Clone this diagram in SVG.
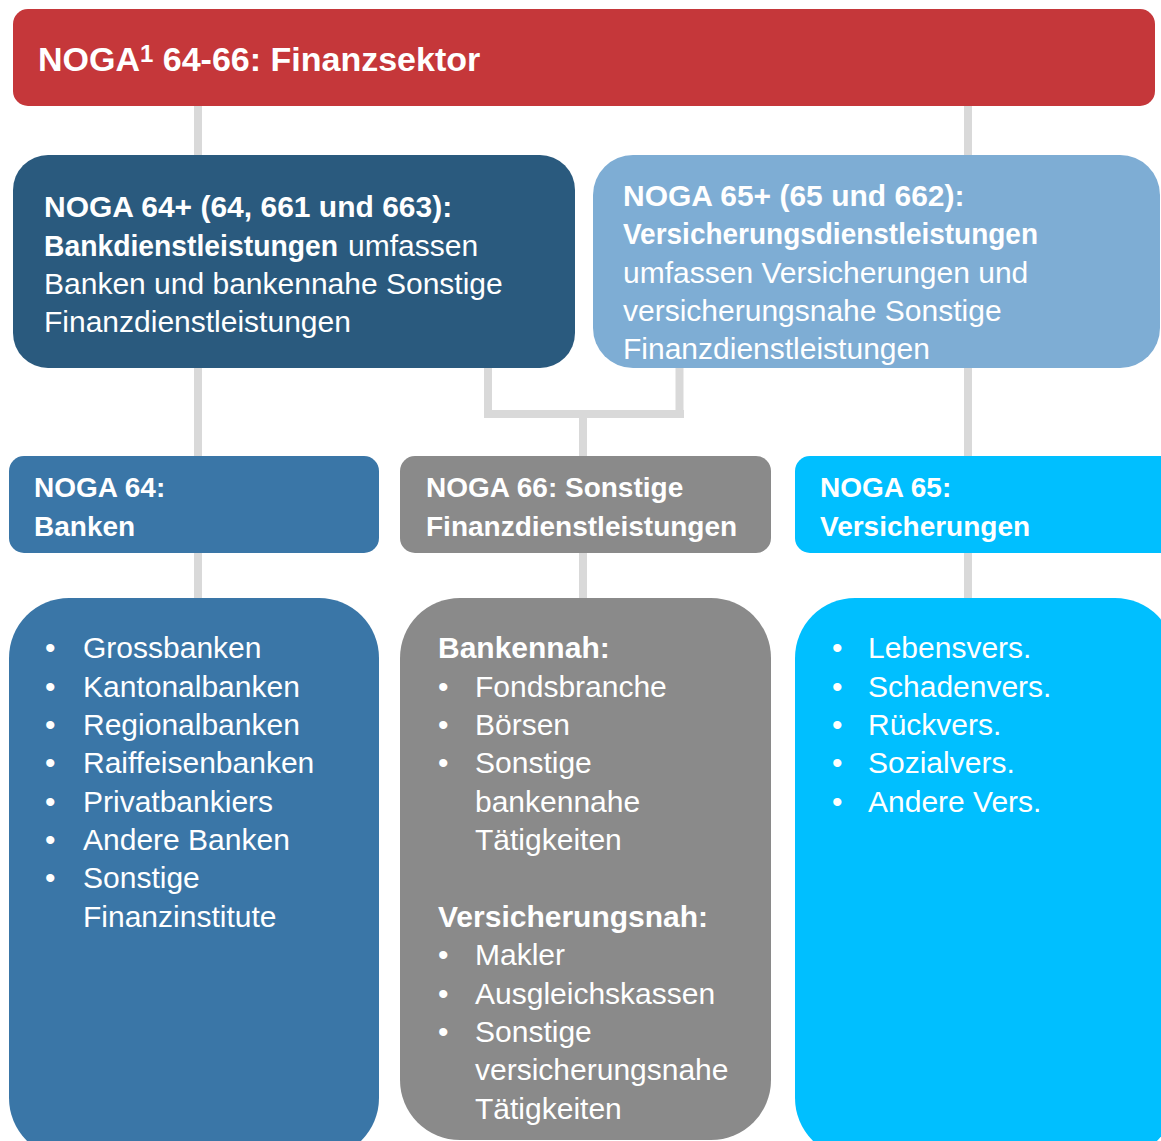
<svg xmlns="http://www.w3.org/2000/svg" width="1161" height="1141" viewBox="0 0 1161 1141">
<style>
text{font-family:"Liberation Sans",Arial,sans-serif;fill:#fff;font-size:30px}
.b{font-weight:bold}
.h{font-weight:bold;font-size:28px}
.t{font-weight:bold;font-size:34px}
.c{stroke:#D9D9D9;stroke-width:8;fill:none}
</style>
<rect width="1161" height="1141" fill="#fff"/>
<g id="connectors">
<line class="c" x1="198" y1="104" x2="198" y2="157"/>
<line class="c" x1="968" y1="104" x2="968" y2="157"/>
<line class="c" x1="198" y1="366" x2="198" y2="458"/>
<line class="c" x1="968" y1="366" x2="968" y2="458"/>
<polyline class="c" points="488,366 488,414 679.5,414 679.5,366"/>
<line class="c" x1="484" y1="414" x2="684" y2="414"/>
<line class="c" x1="583" y1="414" x2="583" y2="458"/>
<line class="c" x1="198" y1="551" x2="198" y2="600"/>
<line class="c" x1="583" y1="551" x2="583" y2="600"/>
<line class="c" x1="968" y1="551" x2="968" y2="600"/>
</g>
<g id="finanzsektor">
<rect x="13" y="9" width="1142" height="97" rx="15" fill="#C5373A"/>
<text x="38" y="71" class="t">NOGA<tspan font-size="24" dy="-9">1</tspan><tspan dy="9"> 64-66: Finanzsektor</tspan></text>
</g>
<g id="bank-dl">
<rect x="13" y="155" width="562" height="213" rx="35" fill="#2A5A7E"/>
<text x="44" y="217" class="b">NOGA 64+ (64, 661 und 663):</text>
<text x="44" y="255.5" class="b" textLength="294" lengthAdjust="spacingAndGlyphs">Bankdienstleistungen</text>
<text x="348" y="255.5">umfassen</text>
<text x="44" y="294">Banken und bankennahe Sonstige</text>
<text x="44" y="332">Finanzdienstleistungen</text>
</g>
<g id="vers-dl">
<rect x="593" y="155" width="567" height="213" rx="40" fill="#7EADD4"/>
<text x="623" y="206" class="b">NOGA 65+ (65 und 662):</text>
<text x="623" y="244" class="b" textLength="415" lengthAdjust="spacingAndGlyphs">Versicherungsdienstleistungen</text>
<text x="623" y="282.5">umfassen Versicherungen und</text>
<text x="623" y="321">versicherungsnahe Sonstige</text>
<text x="623" y="359">Finanzdienstleistungen</text>
</g>
<g id="banken">
<rect x="9" y="456" width="370" height="97" rx="15" fill="#3A76A7"/>
<text x="34" y="497" class="h">NOGA 64:</text>
<text x="34" y="536" class="h">Banken</text>
</g>
<g id="sonstige">
<rect x="400" y="456" width="371" height="97" rx="15" fill="#8A8A8A"/>
<text x="426" y="497" class="h">NOGA 66: Sonstige</text>
<text x="426" y="536" class="h">Finanzdienstleistungen</text>
</g>
<g id="versicherungen">
<rect x="795" y="456" width="380" height="97" rx="15" fill="#00BFFF"/>
<text x="820" y="497" class="h">NOGA 65:</text>
<text x="820" y="536" class="h">Versicherungen</text>
</g>
<g id="banken-liste">
<rect x="9" y="598" width="370" height="560" rx="60" fill="#3A76A7"/>
<text x="45" y="658">•</text><text x="83" y="658">Grossbanken</text>
<text x="45" y="696.5">•</text><text x="83" y="696.5">Kantonalbanken</text>
<text x="45" y="735">•</text><text x="83" y="735">Regionalbanken</text>
<text x="45" y="773">•</text><text x="83" y="773">Raiffeisenbanken</text>
<text x="45" y="811.5">•</text><text x="83" y="811.5">Privatbankiers</text>
<text x="45" y="850">•</text><text x="83" y="850">Andere Banken</text>
<text x="45" y="888">•</text><text x="83" y="888">Sonstige</text>
<text x="83" y="926.5">Finanzinstitute</text>
</g>
<g id="sonstige-liste">
<path d="M460 598 H711 A60 60 0 0 1 771 658 V1080 A60 60 0 0 1 711 1140 H460 A60 60 0 0 1 400 1080 V658 A60 60 0 0 1 460 598 Z" fill="#8A8A8A"/>
<text x="438" y="658" class="b">Bankennah:</text>
<text x="438" y="696.5">•</text><text x="475" y="696.5">Fondsbranche</text>
<text x="438" y="735">•</text><text x="475" y="735">Börsen</text>
<text x="438" y="773">•</text><text x="475" y="773">Sonstige</text>
<text x="475" y="811.5">bankennahe</text>
<text x="475" y="850">Tätigkeiten</text>
<text x="438" y="926.5" class="b">Versicherungsnah:</text>
<text x="438" y="965">•</text><text x="475" y="965">Makler</text>
<text x="438" y="1003.5">•</text><text x="475" y="1003.5">Ausgleichskassen</text>
<text x="438" y="1042">•</text><text x="475" y="1042">Sonstige</text>
<text x="475" y="1080">versicherungsnahe</text>
<text x="475" y="1118.5">Tätigkeiten</text>
</g>
<g id="vers-liste">
<rect x="795" y="598" width="380" height="560" rx="60" fill="#00BFFF"/>
<text x="832" y="658">•</text><text x="868" y="658">Lebensvers.</text>
<text x="832" y="696.5">•</text><text x="868" y="696.5">Schadenvers.</text>
<text x="832" y="735">•</text><text x="868" y="735">Rückvers.</text>
<text x="832" y="773">•</text><text x="868" y="773">Sozialvers.</text>
<text x="832" y="811.5">•</text><text x="868" y="811.5">Andere Vers.</text>
</g>
</svg>
